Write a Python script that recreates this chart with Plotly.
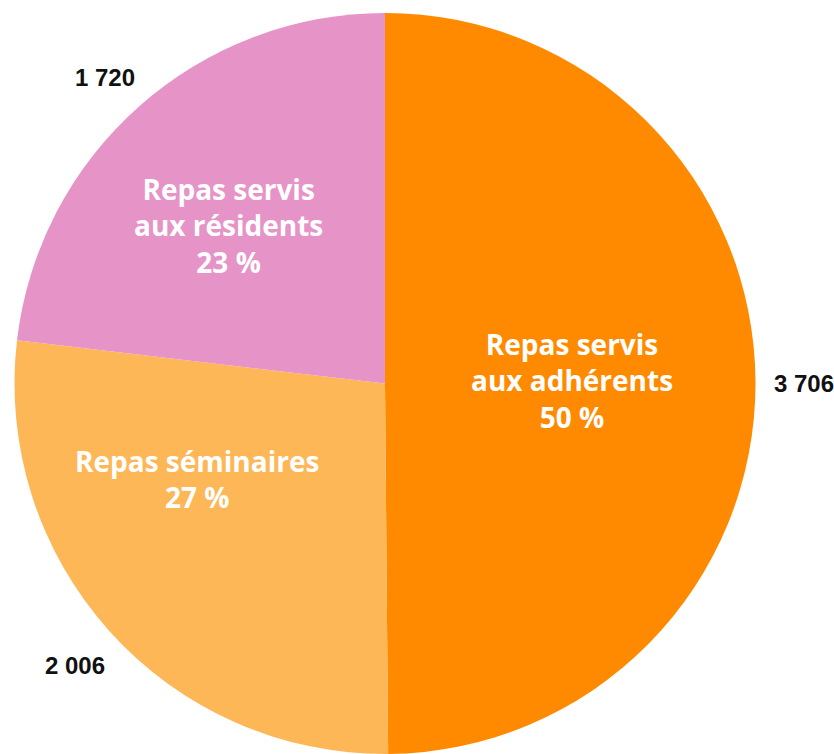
import plotly.graph_objects as go

# Répartition des repas servis
categories = ["Repas servis<br>aux adhérents", "Repas séminaires", "Repas servis<br>aux résidents"]
values = [3706, 2006, 1720]
colors = ["#FF8A00", "#FDB756", "#E693C8"]

W, H = 834, 754
total = sum(values)
shares = [round(v * 100 / total) for v in values]


def fmt_thousands(n):
    return f"{n:,}".replace(",", " ")


fig = go.Figure(
    go.Pie(
        labels=categories,
        values=values,
        sort=False,
        direction="clockwise",
        rotation=0,
        marker=dict(colors=colors, line=dict(width=0)),
        textinfo="none",
        hoverinfo="label+value+percent",
        showlegend=False,
        domain=dict(x=[14 / W, 756 / W], y=[0, 741 / H]),
    )
)

# label positions in pixels: centre of each text block
inside_pos = [(572, 380), (197, 479), (228, 225)]
outside_pos = [(772, 383, "left"), (75, 665, "center"), (105, 78, "center")]

annotations = []
for cat, pct, (px, py) in zip(categories, shares, inside_pos):
    annotations.append(dict(
        text=f"{cat}<br>{pct} %",
        x=px / W, y=1 - py / H, xref="paper", yref="paper",
        xanchor="center", yanchor="middle", showarrow=False,
        borderpad=0,
        font=dict(family="Open Sans", size=28, color="white", weight="bold"),
    ))
for v, (px, py, anchor) in zip(values, outside_pos):
    annotations.append(dict(
        text=fmt_thousands(v),
        x=px / W, y=1 - py / H, xref="paper", yref="paper",
        xanchor=anchor, yanchor="middle", showarrow=False,
        font=dict(family="Liberation Sans", size=24, color="#111111", weight="bold"),
    ))

fig.update_layout(
    width=W, height=H,
    margin=dict(l=0, r=0, t=0, b=0),
    paper_bgcolor="white",
    annotations=annotations,
)

fig.write_html("out.html")
